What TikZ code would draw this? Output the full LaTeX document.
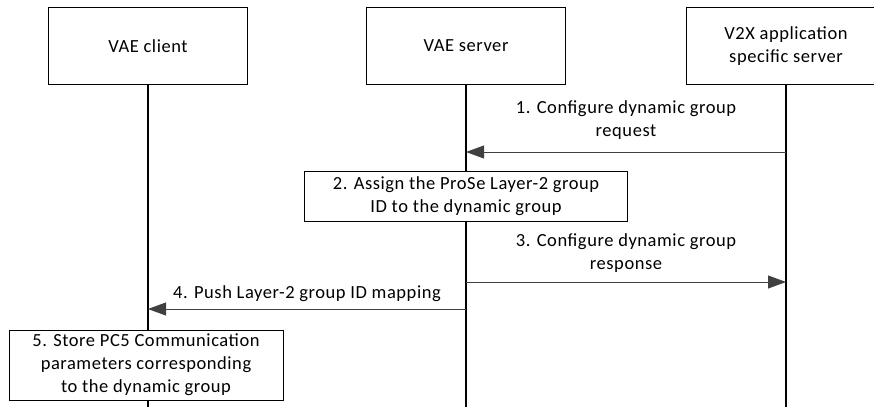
\documentclass[tikz,border=0pt]{standalone}
\usepackage{fontspec}
\setmainfont[LetterSpace=3]{Carlito}
\usetikzlibrary{arrows.meta}

\begin{document}
\begin{tikzpicture}[x=1pt,y=-1pt]

\tikzstyle{every node}=[font=\fontsize{18.5}{23}\selectfont]
\tikzstyle{entity}=[draw, line width=0.8pt, minimum width=199, minimum height=77, align=center, inner sep=0pt]
\tikzstyle{step box}=[draw, fill=white, line width=0.8pt, align=center, inner sep=0pt]
\tikzstyle{life}=[line width=1.6pt]
\tikzstyle{msg}=[line width=0.8pt, draw=black!75, -{Triangle[length=18pt,width=13pt]}, color=black!75]
\tikzstyle{msg text}=[align=center, text=black]

\useasboundingbox (0,0) rectangle (874,407);

\node (client) at (148,46) [entity] {VAE client};
\node (server) at (466,46) [entity] {VAE server};
\node (app) at (786,46) [entity] {V2X application\\specific server};

\coordinate (client end) at (148,407);
\coordinate (server end) at (466,407);
\coordinate (app end) at (786,407);

\draw[life] (client.south) -- (client end);
\draw[life] (server.south) -- (server end);
\draw[life] (app.south) -- (app end);

% messages
\coordinate (app 1) at (786,152);
\coordinate (server 1) at (466,152);
\draw[msg] (app 1) -- (server 1)
	node [midway, above=9pt, msg text]
		{1. Configure dynamic group\\request};

\node (assign) at (466,196) [step box, minimum width=323, minimum height=50]
	{2. Assign the ProSe Layer-2 group\\ID to the dynamic group};

\coordinate (server 3) at (466,282);
\coordinate (app 3) at (786,282);
\draw[msg] (server 3) -- (app 3)
	node [midway, above=6pt, msg text]
		{3. Configure dynamic group\\response};

\coordinate (server 4) at (466,309);
\coordinate (client 4) at (148,309);
\draw[msg] (server 4) -- (client 4)
	node [midway, above=4pt, msg text]
		{4. Push Layer-2 group ID mapping};

\node (store) at (146,365) [step box, minimum width=274, minimum height=70]
	{5. Store PC5 Communication\\parameters corresponding\\to the dynamic group};

\end{tikzpicture}
\end{document}
